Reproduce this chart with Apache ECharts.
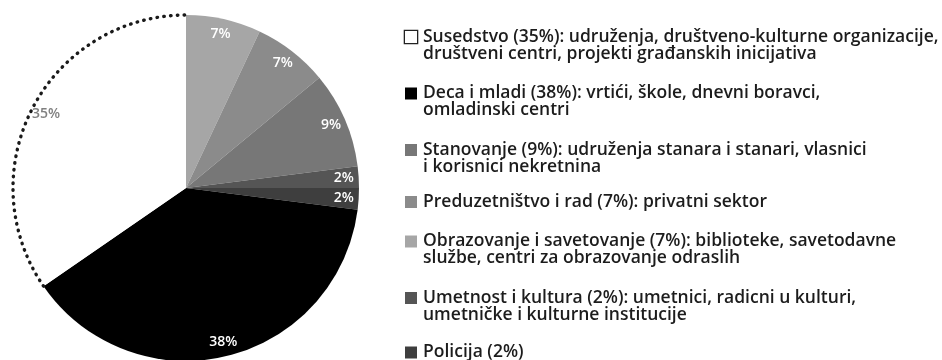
<!DOCTYPE html>
<html>
<head>
<meta charset="utf-8">
<script src="https://cdn.jsdelivr.net/npm/echarts@6/dist/echarts.min.js"></script>
<style>
html, body { margin: 0; padding: 0; background: #ffffff; }
#chart { width: 942px; height: 360px; }
</style>
</head>
<body>
<div id="chart"></div>
<script>
// Slices, clockwise from 12 o'clock
const categories = ['Obrazovanje i savetovanje', 'Preduzetništvo i rad', 'Stanovanje', 'Umetnost i kultura', 'Policija', 'Deca i mladi', 'Susedstvo'];
const values = [7, 7, 9, 2, 2, 38.4, 34.6];
const percentLabels = ['7%', '7%', '9%', '2%', '2%', '38%', '35%'];
const sliceColors = ['#a6a6a6', '#8b8b8b', '#777777', '#555555', '#3e3e3e', '#000000', '#ffffff'];
const labelColors = ['#ffffff', '#ffffff', '#ffffff', '#ffffff', '#ffffff', '#ffffff', '#808080'];

// Legend (order and wording as in the reference)
const legendOrder = ['Susedstvo', 'Deca i mladi', 'Stanovanje', 'Preduzetništvo i rad', 'Obrazovanje i savetovanje', 'Umetnost i kultura', 'Policija'];
const legendFirstLines = [
  'Susedstvo (35%): udruženja, društveno-kulturne organizacije,',
  'Deca i mladi (38%): vrtići, škole, dnevni boravci,',
  'Stanovanje (9%): udruženja stanara i stanari, vlasnici',
  'Preduzetništvo i rad (7%): privatni sektor',
  'Obrazovanje i savetovanje (7%): biblioteke, savetodavne',
  'Umetnost i kultura (2%): umetnici, radicni u kulturi,',
  'Policija (2%)'
];
const legendSecondLines = [
  'društveni centri, projekti građanskih inicijativa',
  'omladinski centri',
  'i korisnici nekretnina',
  '',
  'službe, centri za obrazovanje odraslih',
  'umetničke i kulturne institucije',
  ''
];

const CX = 186, CY = 188, R = 173;
const FONT = '"Open Sans", sans-serif';

const chart = echarts.init(document.getElementById('chart'), null, { renderer: 'canvas' });

const rich = { gap: { width: 6 }, ind: { width: 18 } };
legendOrder.forEach(function (name, k) {
  const c = sliceColors[categories.indexOf(name)];
  rich['s' + k] = {
    width: 12, height: 12,
    backgroundColor: c,
    borderColor: c === '#ffffff' ? '#222222' : c,
    borderWidth: c === '#ffffff' ? 1.3 : 0
  };
});

const legendData = legendOrder.map(function (name, k) {
  const twoLines = !!legendSecondLines[k];
  const isLast = k === legendOrder.length - 1;
  return { name: name, textStyle: { padding: [twoLines ? 5 : (isLast ? 3 : 0), 0, 0, 0] } };
});

const pieData = categories.map(function (n, i) {
  return { name: n, value: values[i], itemStyle: { color: sliceColors[i] } };
});
const labelData = categories.map(function (n, i) {
  return { name: n, value: values[i], label: { color: labelColors[i] } };
});

const outlineIndex = categories.indexOf('Susedstvo');

chart.setOption({
  animation: false,
  backgroundColor: '#ffffff',
  legend: {
    orient: 'vertical',
    left: 400,
    top: 23.5,
    padding: 0,
    itemGap: 17,
    itemWidth: 0,
    itemHeight: 12,
    icon: 'none',
    selectedMode: false,
    data: legendData,
    formatter: function (name) {
      const k = legendOrder.indexOf(name);
      let s = '{s' + k + '|}{gap|}' + legendFirstLines[k];
      if (legendSecondLines[k]) s += '\n{ind|}' + legendSecondLines[k];
      return s;
    },
    textStyle: {
      fontFamily: FONT,
      fontSize: 17.5,
      fontWeight: 600,
      lineHeight: 17,
      color: '#1c1c1c',
      rich: rich
    }
  },
  series: [
    {
      type: 'pie',
      name: 'share',
      center: [CX, CY],
      radius: [0, R],
      startAngle: 90,
      clockwise: true,
      avoidLabelOverlap: false,
      silent: true,
      label: { show: false },
      labelLine: { show: false },
      itemStyle: { borderWidth: 0 },
      emphasis: { disabled: true },
      data: pieData
    },
    {
      type: 'pie',
      name: 'labels',
      center: [CX, CY],
      radius: [137, R],
      startAngle: 90,
      clockwise: true,
      avoidLabelOverlap: false,
      silent: true,
      itemStyle: { color: 'rgba(0,0,0,0)', borderWidth: 0 },
      labelLine: { show: false },
      emphasis: { disabled: true },
      label: {
        show: true,
        position: 'inside',
        fontFamily: FONT,
        fontSize: 14,
        fontWeight: 600,
        formatter: function (p) { return percentLabels[p.dataIndex]; }
      },
      data: labelData
    },
    {
      type: 'custom',
      name: 'outline',
      coordinateSystem: 'none',
      silent: true,
      z: 5,
      data: [[outlineIndex]],
      renderItem: function (params, api) {
        const idx = api.value(0);
        let total = 0, before = 0;
        values.forEach(function (v, i) { total += v; if (i < idx) before += v; });
        const a0 = -Math.PI / 2 + 2 * Math.PI * before / total;
        const a1 = a0 + 2 * Math.PI * values[idx] / total;
        return {
          type: 'arc',
          shape: { cx: CX, cy: CY, r: R, startAngle: a0, endAngle: a1, clockwise: true },
          style: { stroke: '#1a1a1a', fill: null, lineWidth: 3.4, lineDash: [0.5, 6.3], lineCap: 'round' }
        };
      }
    }
  ]
});
</script>
</body>
</html>
